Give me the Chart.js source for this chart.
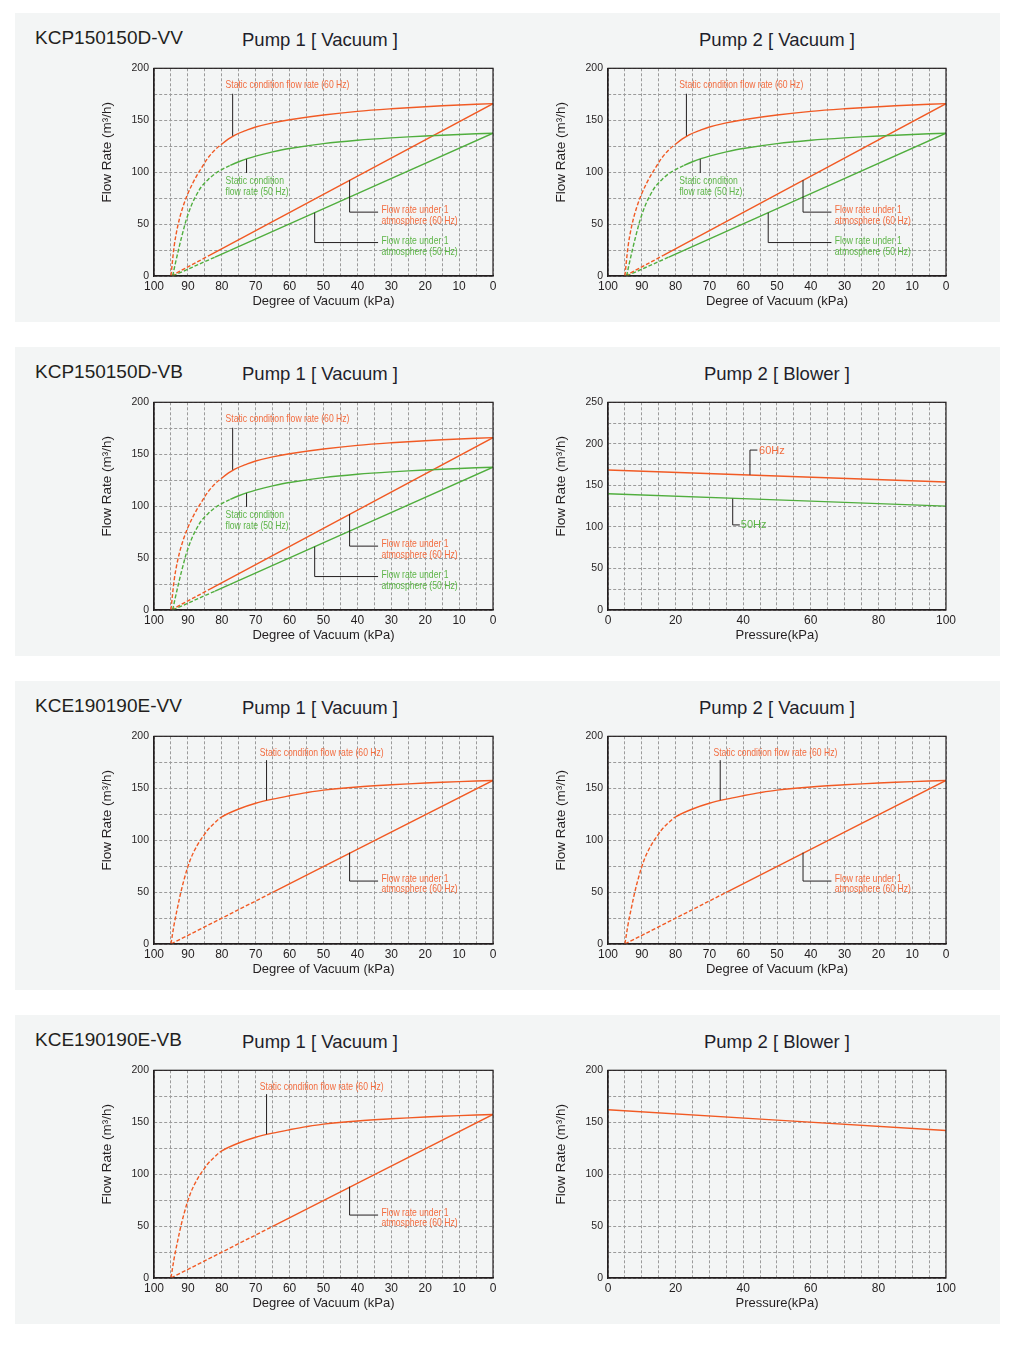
<!DOCTYPE html>
<html lang="en">
<head>
<meta charset="UTF-8">
<title>Pump flow rate charts</title>
<style>
  body { margin: 0; background: #fff; font-family: 'Liberation Sans', Arial, sans-serif; }
  #page { position: relative; width: 1030px; height: 1350px; }
  .panel { position: absolute; left: 15px; width: 985px; height: 309px; background: #f3f5f5; }
  .model { position: absolute; left: 20px; top: 13px; font-size: 19px; line-height: 24px; color: #231f20; }
  .pump { position: absolute; top: 15px; width: 300px; text-align: center; font-size: 18.5px; line-height: 24px; color: #1f1f2b; }
  .p1 { left: 155px; }
  .p2 { left: 612px; }
  canvas { position: absolute; top: 44px; }
  .c1 { left: 80px; }
  .c2 { left: 534px; }
</style>
</head>
<body>
<div id="page">
  <div class="panel" style="top:13px">
    <div class="model">KCP150150D-VV</div>
    <div class="pump p1">Pump 1 [ Vacuum ]</div>
    <div class="pump p2">Pump 2 [ Vacuum ]</div>
    <canvas id="vv1" class="c1" width="410" height="255"></canvas>
    <canvas id="vv2" class="c2" width="410" height="255"></canvas>
  </div>
  <div class="panel" style="top:347px">
    <div class="model">KCP150150D-VB</div>
    <div class="pump p1">Pump 1 [ Vacuum ]</div>
    <div class="pump p2">Pump 2 [ Blower ]</div>
    <canvas id="vb1" class="c1" width="410" height="255"></canvas>
    <canvas id="vb2" class="c2" width="410" height="255"></canvas>
  </div>
  <div class="panel" style="top:681px">
    <div class="model">KCE190190E-VV</div>
    <div class="pump p1">Pump 1 [ Vacuum ]</div>
    <div class="pump p2">Pump 2 [ Vacuum ]</div>
    <canvas id="ev1" class="c1" width="410" height="255"></canvas>
    <canvas id="ev2" class="c2" width="410" height="255"></canvas>
  </div>
  <div class="panel" style="top:1015px">
    <div class="model">KCE190190E-VB</div>
    <div class="pump p1">Pump 1 [ Vacuum ]</div>
    <div class="pump p2">Pump 2 [ Blower ]</div>
    <canvas id="eb1" class="c1" width="410" height="255"></canvas>
    <canvas id="eb2" class="c2" width="410" height="255"></canvas>
  </div>
</div>

<script src="https://cdn.jsdelivr.net/npm/chart.js"></script>
<script>
// KCP150150D vacuum pump, degree of vacuum (kPa) -> flow rate (m3/h)
const kcpStatic60Kpa = [95, 94, 93, 92, 91, 90, 88, 86, 84, 82, 80, 78, 76, 73, 70, 65, 60, 50, 40, 30, 20, 10, 0];
const kcpStatic60Flow = [0, 30, 48, 61, 71, 79.5, 93, 104, 114, 121.5, 127, 132, 136, 140, 143.5, 147.5, 150.5, 155, 158.5, 161, 163, 164.7, 166];
const kcpStatic50Kpa = [94.5, 93.5, 92.5, 91.5, 90.5, 89.5, 88.5, 87.5, 86, 84, 82, 80, 77.5, 75, 72.5, 70, 65, 60, 50, 40, 30, 20, 10, 0];
const kcpStatic50Flow = [0, 15, 29, 42, 54, 63.5, 71.5, 78, 86, 93, 98.5, 102.5, 106.5, 110, 113, 115.5, 119.5, 122.8, 127.5, 130.7, 133, 134.8, 136.3, 137.5];
const kcpAtm60Kpa = [95, 83.5, 0];
const kcpAtm60Flow = [0, 20.1, 166];
const kcpAtm50Kpa = [94.5, 82, 0];
const kcpAtm50Flow = [0, 18.2, 137.5];

// KCP150150D blower pump, pressure (kPa) -> flow rate
const kcpBlowerKpa = [0, 100];
const kcpBlower60Flow = [168.5, 154];
const kcpBlower50Flow = [140, 125];

// KCE190190E vacuum pump
const kceStatic60Kpa = [95, 94, 93, 92, 91, 90, 89, 88, 87, 86, 85, 84, 82, 80, 75, 70, 65, 60, 55, 50, 40, 30, 20, 10, 0];
const kceStatic60Flow = [0, 20, 36, 51, 63.5, 74.5, 83.5, 90.5, 96.5, 101.5, 106, 110.5, 117, 122.5, 130, 135.5, 139.5, 142.8, 145.8, 148.2, 151.2, 153.3, 155, 156.4, 157.5];
const kceAtm60Kpa = [95, 65, 0];
const kceAtm60Flow = [0, 49.7, 157.5];

// KCE190190E blower pump
const kceBlowerKpa = [0, 100];
const kceBlower60Flow = [162, 142];

const ORANGE = '#f15a24', ORANGE_TEXT = '#f26c3f';
const GREEN = '#50ae3e', GREEN_TEXT = '#5db548';
const INK = '#231f20';
const NOTE_FONT = '10.5px "Liberation Sans", Arial, sans-serif';
const HZ_FONT = '11px "Liberation Sans", Arial, sans-serif';
const Y_TITLE = 'Flow Rate (m³/h)';

function pts(xs, ys) {
    return xs.map((x, i) => ({ x: x, y: ys[i] }));
}

// closes the plot box and writes the y title (sits above the axis middle in the original)
const framePlugin = {
    id: 'frame',
    afterDatasetsDraw(chart) {
        const a = chart.chartArea, ctx = chart.ctx;
        ctx.save();
        ctx.strokeStyle = INK;
        ctx.lineWidth = 1.2;
        ctx.strokeRect(a.left, a.top, a.right - a.left, a.bottom - a.top);
        ctx.translate(a.left - 47, a.top + 84);
        ctx.rotate(-Math.PI / 2);
        ctx.fillStyle = INK;
        ctx.font = '13.5px "Liberation Sans", Arial, sans-serif';
        ctx.textAlign = 'center';
        ctx.textBaseline = 'middle';
        ctx.fillText(Y_TITLE, 0, 0);
        ctx.restore();
    }
};

// labels with black leader lines, placed in data units
function notesPlugin(notes) {
    return {
        id: 'notes',
        afterDatasetsDraw(chart) {
            const ctx = chart.ctx, sx = chart.scales.x, sy = chart.scales.y;
            ctx.save();
            notes.forEach(n => {
                ctx.strokeStyle = INK;
                ctx.lineWidth = 1;
                ctx.beginPath();
                n.leader.forEach((p, i) => {
                    const px = sx.getPixelForValue(p[0]), py = sy.getPixelForValue(p[1]);
                    if (i) ctx.lineTo(px, py); else ctx.moveTo(px, py);
                });
                ctx.stroke();
                ctx.fillStyle = n.color;
                ctx.font = n.font || NOTE_FONT;
                ctx.textAlign = 'left';
                ctx.textBaseline = 'middle';
                const tx = sx.getPixelForValue(n.x), ty = sy.getPixelForValue(n.y);
                const squeeze = n.font ? 1 : 0.82;  // original uses a condensed face
                n.lines.forEach((t, i) => {
                    ctx.fillText(t, tx, ty + i * 10.4, ctx.measureText(t).width * squeeze);
                });
            });
            ctx.restore();
        }
    };
}

function makeChart(id, cfg) {
    const datasets = cfg.series.map(s => ({
        data: pts(s.xs, s.ys),
        borderColor: s.color,
        borderWidth: 1.4,
        pointRadius: 0,
        fill: false,
        tension: 0.35,
        segment: {
            borderDash: c => (s.dashTo != null && c.p1.parsed.x >= s.dashTo - 0.01) ? [4, 2] : undefined
        }
    }));
    new Chart(document.getElementById(id), {
        type: 'line',
        data: { datasets: datasets },
        options: {
            responsive: false,
            animation: false,
            events: [],
            layout: { padding: { top: 10, right: cfg.padRight, left: 0, bottom: 0 } },
            plugins: { legend: { display: false }, tooltip: { enabled: false } },
            scales: {
                x: {
                    type: 'linear', min: 0, max: 100, reverse: cfg.reverse,
                    afterFit: s => { s.height = 36; },
                    ticks: {
                        stepSize: 5, autoSkip: false, maxRotation: 0, padding: 3,
                        color: INK, font: { size: 12 },
                        callback: v => v % cfg.xEvery === 0 ? String(v) : ''
                    },
                    grid: { color: '#9b9b9b', lineWidth: 1, drawTicks: false },
                    border: { color: INK, width: 1.2, dash: [3, 2] },
                    title: { display: true, text: cfg.xTitle, color: INK, font: { size: 13 }, padding: { top: 0, bottom: 3 } }
                },
                y: {
                    type: 'linear', min: 0, max: cfg.yMax,
                    afterFit: s => { s.width = 59; },
                    ticks: {
                        stepSize: 25, autoSkip: false, padding: 5,
                        color: INK, font: { size: 10.5 },
                        callback: v => v % 50 === 0 ? String(v) : ''
                    },
                    grid: { color: '#9b9b9b', lineWidth: 1, drawTicks: false },
                    border: { color: INK, width: 1.2, dash: [3, 2] }
                }
            }
        },
        plugins: [notesPlugin(cfg.notes || []), framePlugin]
    });
}

const kcpVacuumSeries = [
    { xs: kcpStatic60Kpa, ys: kcpStatic60Flow, color: ORANGE, dashTo: 80 },
    { xs: kcpStatic50Kpa, ys: kcpStatic50Flow, color: GREEN, dashTo: 77.5 },
    { xs: kcpAtm60Kpa, ys: kcpAtm60Flow, color: ORANGE, dashTo: 83.5 },
    { xs: kcpAtm50Kpa, ys: kcpAtm50Flow, color: GREEN, dashTo: 82 }
];
const kcpVacuumNotes = [
    { lines: ['Static condition flow rate (60 Hz)'], color: ORANGE_TEXT, x: 78.9, y: 184, leader: [[76.8, 175.5], [76.8, 135]] },
    { lines: ['Static condition', 'flow rate (50 Hz)'], color: GREEN_TEXT, x: 78.9, y: 91.2, leader: [[72.7, 112.5], [72.7, 99.2]] },
    { lines: ['Flow rate under 1', 'atmosphere (60 Hz)'], color: ORANGE_TEXT, x: 32.9, y: 63, leader: [[42.3, 92.3], [42.3, 61.5], [33.9, 61.5]] },
    { lines: ['Flow rate under 1', 'atmosphere (50 Hz)'], color: GREEN_TEXT, x: 32.9, y: 33.5, leader: [[52.6, 61], [52.6, 32.2], [33.9, 32.2]] }
];
const kceVacuumSeries = [
    { xs: kceStatic60Kpa, ys: kceStatic60Flow, color: ORANGE, dashTo: 80 },
    { xs: kceAtm60Kpa, ys: kceAtm60Flow, color: ORANGE, dashTo: 65 }
];
const kceVacuumNotes = [
    { lines: ['Static condition flow rate (60 Hz)'], color: ORANGE_TEXT, x: 68.8, y: 184, leader: [[66.8, 177], [66.8, 138.5]] },
    { lines: ['Flow rate under 1', 'atmosphere (60 Hz)'], color: ORANGE_TEXT, x: 32.9, y: 62.8, leader: [[42.3, 88], [42.3, 60.6], [33.9, 60.6]] }
];
const vacuumBase = { reverse: true, xEvery: 10, xTitle: 'Degree of Vacuum (kPa)', yMax: 200 };

makeChart('vv1', Object.assign({}, vacuumBase, { padRight: 12, series: kcpVacuumSeries, notes: kcpVacuumNotes }));
makeChart('vv2', Object.assign({}, vacuumBase, { padRight: 13, series: kcpVacuumSeries, notes: kcpVacuumNotes }));
makeChart('vb1', Object.assign({}, vacuumBase, { padRight: 12, series: kcpVacuumSeries, notes: kcpVacuumNotes }));
makeChart('vb2', {
    reverse: false, xEvery: 20, xTitle: 'Pressure(kPa)', yMax: 250, padRight: 13,
    series: [
        { xs: kcpBlowerKpa, ys: kcpBlower60Flow, color: ORANGE, dashTo: null },
        { xs: kcpBlowerKpa, ys: kcpBlower50Flow, color: GREEN, dashTo: null }
    ],
    notes: [
        { lines: ['60Hz'], color: ORANGE_TEXT, font: HZ_FONT, x: 44.7, y: 191.7, leader: [[42, 162.7], [42, 192.5], [44.2, 192.5]] },
        { lines: ['50Hz'], color: GREEN_TEXT, font: HZ_FONT, x: 39.3, y: 102.6, leader: [[36.9, 134], [36.9, 102.4], [39, 102.4]] }
    ]
});
makeChart('ev1', Object.assign({}, vacuumBase, { padRight: 12, series: kceVacuumSeries, notes: kceVacuumNotes }));
makeChart('ev2', Object.assign({}, vacuumBase, { padRight: 13, series: kceVacuumSeries, notes: kceVacuumNotes }));
makeChart('eb1', Object.assign({}, vacuumBase, { padRight: 12, series: kceVacuumSeries, notes: kceVacuumNotes }));
makeChart('eb2', {
    reverse: false, xEvery: 20, xTitle: 'Pressure(kPa)', yMax: 200, padRight: 13,
    series: [{ xs: kceBlowerKpa, ys: kceBlower60Flow, color: ORANGE, dashTo: null }]
});
</script>
</body>
</html>
